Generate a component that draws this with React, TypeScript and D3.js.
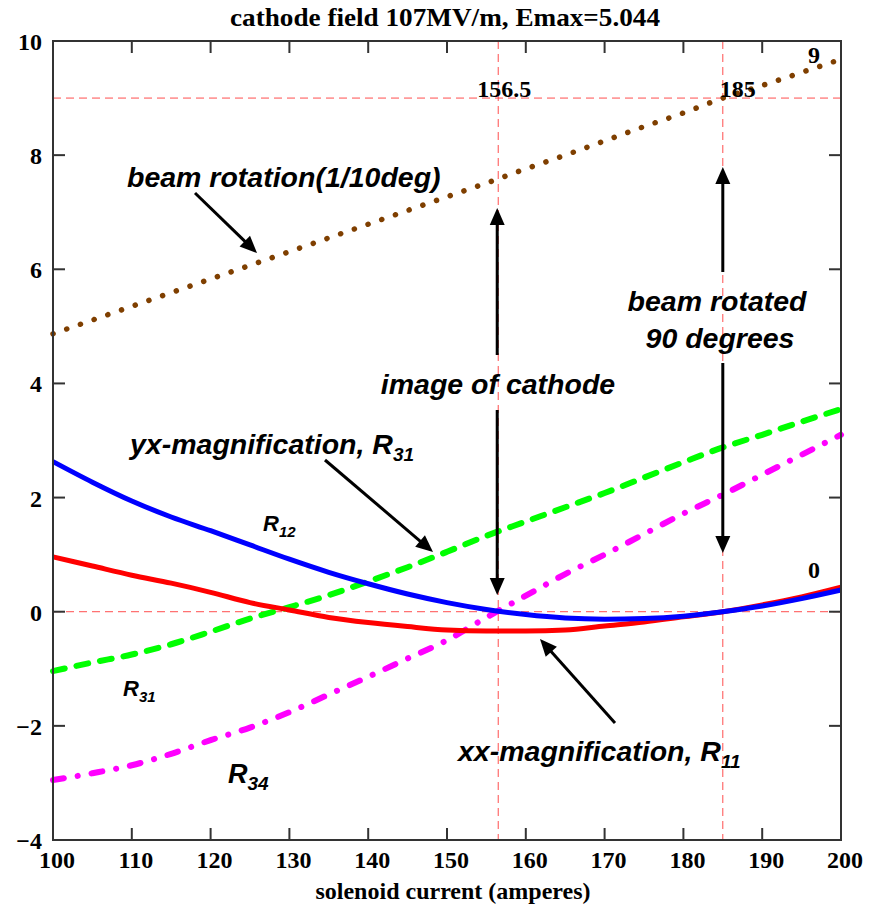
import React from "react";
import * as d3 from "d3";

const currents = [100, 105, 110, 115, 120, 125, 130, 135, 140, 145, 150, 155, 160, 165, 170, 175, 180, 185, 190, 195, 200];
const r12 = [2.63, 2.27, 1.94, 1.66, 1.42, 1.17, 0.92, 0.69, 0.49, 0.31, 0.16, 0.04, -0.05, -0.11, -0.13, -0.12, -0.08, 0.0, 0.1, 0.23, 0.38];
const r11 = [0.96, 0.8, 0.64, 0.5, 0.34, 0.16, 0.03, -0.1, -0.19, -0.26, -0.32, -0.34, -0.34, -0.32, -0.25, -0.18, -0.09, 0.0, 0.12, 0.26, 0.43];
const r31 = [-1.04, -0.89, -0.75, -0.57, -0.35, -0.12, 0.08, 0.29, 0.53, 0.78, 1.05, 1.33, 1.58, 1.83, 2.08, 2.35, 2.62, 2.88, 3.1, 3.33, 3.55];
const r34 = [-2.95, -2.83, -2.69, -2.49, -2.25, -2.03, -1.76, -1.45, -1.14, -0.82, -0.5, -0.1, 0.28, 0.66, 1.0, 1.36, 1.72, 2.05, 2.4, 2.75, 3.1];
const rotation = [4.87, 5.11, 5.35, 5.59, 5.83, 6.07, 6.31, 6.55, 6.79, 7.03, 7.27, 7.51, 7.76, 8.0, 8.25, 8.5, 8.74, 9.0, 9.22, 9.45, 9.68];

const xTicks = [100, 110, 120, 130, 140, 150, 160, 170, 180, 190, 200];
const yTicks = [-4, -2, 0, 2, 4, 6, 8, 10];
const refX = [156.5, 185];
const refY = [0, 9];

const title = "cathode field 107MV/m, Emax=5.044";
const xTitle = "solenoid current (amperes)";

const W = 876, H = 905;
const M = { left: 53, right: 841, top: 41, bottom: 840 };

const x = d3.scaleLinear().domain([100, 200]).range([M.left, M.right]);
const y = d3.scaleLinear().domain([-4, 10]).range([M.bottom, M.top]);

const line = d3.line<number>().x((_, i) => x(currents[i])).y((d) => y(d)).curve(d3.curveMonotoneX);

const serif = "'Liberation Serif', 'Times New Roman', serif";
const sans = "'Liberation Sans', Arial, sans-serif";

function Arrow({ x1, y1, x2, y2 }: { x1: number; y1: number; x2: number; y2: number }) {
  const dx = x2 - x1, dy = y2 - y1;
  const len = Math.hypot(dx, dy);
  const ux = dx / len, uy = dy / len;
  const hl = 17, hw = 7.5;
  const bx = x2 - ux * hl, by = y2 - uy * hl;
  const px = -uy, py = ux;
  const pts = `${x2},${y2} ${bx + px * hw},${by + py * hw} ${bx - px * hw},${by - py * hw}`;
  return (
    <g>
      <line x1={x1} y1={y1} x2={bx + ux * 2} y2={by + uy * 2} stroke="#000" strokeWidth={3} />
      <polygon points={pts} fill="#000" />
    </g>
  );
}

export default function App() {
  const labelStyle = { fontFamily: sans, fontWeight: 700, fontStyle: "italic" as const };
  return (
    <svg width={W} height={H} style={{ position: "absolute", left: 0, top: 0, background: "#fff" }}>
      <rect x={0} y={0} width={W} height={H} fill="#fff" />
      {/* reference dashed lines */}
      {refY.map((v) => (
        <line key={"ry" + v} x1={M.left} x2={M.right} y1={y(v)} y2={y(v)} stroke="#ff3030" strokeWidth={1} strokeDasharray="8,5" opacity={0.85} />
      ))}
      {refX.map((v) => (
        <line key={"rx" + v} x1={x(v)} x2={x(v)} y1={M.top} y2={M.bottom} stroke="#ff3030" strokeWidth={1} strokeDasharray="8,5" opacity={0.85} />
      ))}

      {/* curves */}
      <path d={line(rotation) || ""} fill="none" stroke="#7f3f00" strokeWidth={5.5} strokeLinecap="round" strokeDasharray="0.1,14.4" />
      <path d={line(r31) || ""} fill="none" stroke="#00ff00" strokeWidth={6} strokeLinecap="round" strokeDasharray="12,12" />
      <path d={line(r34) || ""} fill="none" stroke="#ff00ff" strokeWidth={6} strokeLinecap="round" strokeDasharray="11,14,0.1,14" />
      <path d={line(r11) || ""} fill="none" stroke="#ff0000" strokeWidth={5} />
      <path d={line(r12) || ""} fill="none" stroke="#0000ff" strokeWidth={5} />

      {/* frame and ticks */}
      <rect x={M.left} y={M.top} width={M.right - M.left} height={M.bottom - M.top} fill="none" stroke="#333" strokeWidth={2} />
      {xTicks.map((t) => (
        <g key={"xt" + t}>
          <line x1={x(t)} x2={x(t)} y1={M.bottom} y2={M.bottom - 12} stroke="#333" strokeWidth={2} />
          <line x1={x(t)} x2={x(t)} y1={M.top} y2={M.top + 12} stroke="#333" strokeWidth={2} />
          <text x={x(t) + 4} y={868} textAnchor="middle" fontFamily={serif} fontWeight={700} fontSize={24}>{t}</text>
        </g>
      ))}
      {yTicks.map((t) => (
        <g key={"yt" + t}>
          <line x1={M.left} x2={M.left + 12} y1={y(t)} y2={y(t)} stroke="#333" strokeWidth={2} />
          <line x1={M.right} x2={M.right - 12} y1={y(t)} y2={y(t)} stroke="#333" strokeWidth={2} />
          <text x={42} y={y(t) + 9} textAnchor="end" fontFamily={serif} fontWeight={700} fontSize={24}>{t < 0 ? "\u2212" + Math.abs(t) : t}</text>
        </g>
      ))}

      {/* titles */}
      <text x={445} y={26} textAnchor="middle" fontFamily={serif} fontWeight={700} fontSize={25} textLength={430} lengthAdjust="spacingAndGlyphs">{title}</text>
      <text x={453} y={899} textAnchor="middle" fontFamily={serif} fontWeight={700} fontSize={24}>{xTitle}</text>

      {/* reference labels */}
      <text x={x(refX[0]) - 21} y={y(refY[1]) - 1} fontFamily={serif} fontWeight={700} fontSize={24}>156.5</text>
      <text x={x(refX[1]) - 3} y={y(refY[1]) - 1} fontFamily={serif} fontWeight={700} fontSize={24}>185</text>
      <text x={814} y={63} textAnchor="middle" fontFamily={serif} fontWeight={700} fontSize={24}>9</text>
      <text x={814} y={578} textAnchor="middle" fontFamily={serif} fontWeight={700} fontSize={24}>0</text>

      {/* annotations */}
      <text x={127} y={187} {...labelStyle} fontSize={28.5}>beam rotation(1/10deg)</text>
      <Arrow x1={195} y1={193} x2={257} y2={253} />

      <text x={498} y={394} textAnchor="middle" {...labelStyle} fontSize={28.5}>image of cathode</text>
      <Arrow x1={x(156.5) - 1} y1={355} x2={x(156.5) - 1} y2={208} />
      <Arrow x1={x(156.5) - 1} y1={410} x2={x(156.5) - 1} y2={595} />

      <text x={717} y={311} textAnchor="middle" {...labelStyle} fontSize={28.5}>beam rotated</text>
      <text x={720} y={348} textAnchor="middle" {...labelStyle} fontSize={28.5}>90 degrees</text>
      <Arrow x1={x(185)} y1={272} x2={x(185)} y2={167} />
      <Arrow x1={x(185)} y1={363} x2={x(185)} y2={553} />

      <text x={130} y={454} {...labelStyle} fontSize={28.5}>
        yx-magnification, R<tspan fontSize={19} dy={7}>31</tspan>
      </text>
      <Arrow x1={325} y1={460} x2={433} y2={552} />

      <text x={458} y={761} {...labelStyle} fontSize={28.5}>
        xx-magnification, R<tspan fontSize={19} dy={7}>11</tspan>
      </text>
      <Arrow x1={615} y1={723} x2={540} y2={639} />

      <text x={263} y={531} {...labelStyle} fontSize={22}>
        R<tspan fontSize={15} dy={6}>12</tspan>
      </text>
      <text x={123} y={696} {...labelStyle} fontSize={22}>
        R<tspan fontSize={15} dy={6}>31</tspan>
      </text>
      <text x={228} y={783} {...labelStyle} fontSize={27}>
        R<tspan fontSize={19} dy={7}>34</tspan>
      </text>
    </svg>
  );
}
